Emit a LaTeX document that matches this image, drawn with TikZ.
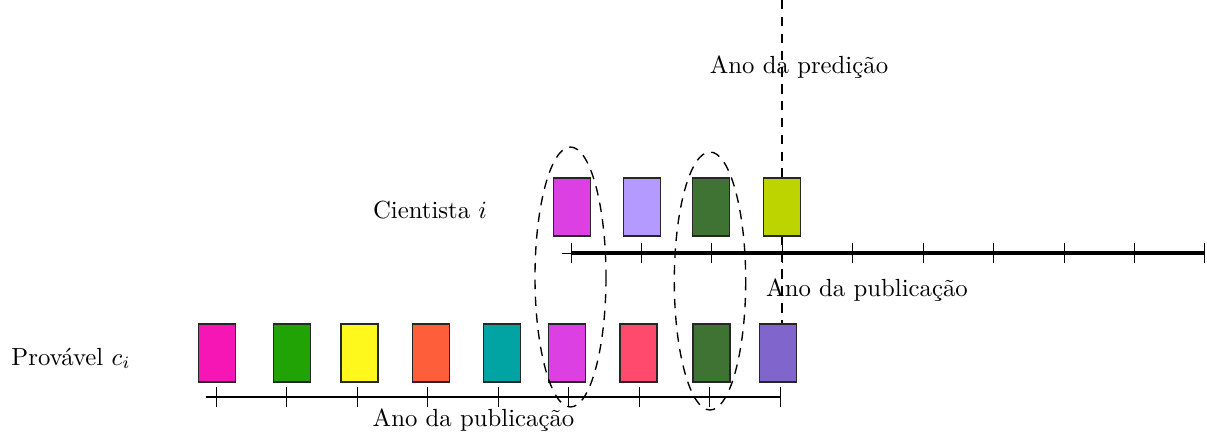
\documentclass[tikz,border=0pt]{standalone}
\usetikzlibrary{shapes.geometric}
\definecolor{cpink}{RGB}{246,22,182}
\definecolor{cgreen}{RGB}{34,163,5}
\definecolor{cyellow}{RGB}{255,248,28}
\definecolor{corange}{RGB}{255,94,58}
\definecolor{cteal}{RGB}{1,163,163}
\definecolor{cmagenta}{RGB}{220,64,226}
\definecolor{cpinkred}{RGB}{255,74,110}
\definecolor{cdkgreen}{RGB}{63,115,51}
\definecolor{cpurple}{RGB}{128,102,204}
\definecolor{clavender}{RGB}{180,154,255}
\definecolor{cyelgreen}{RGB}{189,212,0}
\begin{document}
\begin{tikzpicture}[x=0.014184cm,y=-0.014184cm,
  pub/.style={draw=black!85,line width=0.55pt,minimum width=0.525cm,minimum height=0.82cm,inner sep=0pt},
  tickmark/.style={line width=0.4pt},
  lbl/.style={anchor=base,inner sep=0pt},
  longdash/.style={dash pattern=on 3.8pt off 3pt,line width=0.55pt}]
\useasboundingbox (0,0) rectangle (1207,438);
% prediction line
\coordinate (pt) at (782,0);
\coordinate (pb) at (782,330);
\draw[longdash] (pt) -- (pb);
% top axis
\coordinate (ta0) at (562,253);
\coordinate (ta1) at (571,253);
\coordinate (ta2) at (1205,253);
\draw[line width=0.4pt] (ta0) -- (ta1);
\draw[line width=1.3pt] (ta1) -- (ta2);
\foreach \i in {0,...,9} {
  \draw[tickmark] ({571+70.44*\i},243) -- ({571+70.44*\i},263);
}
% bottom axis
\coordinate (ba0) at (206,397);
\coordinate (ba1) at (780,397);
\draw[line width=0.6pt] (ba0) -- (ba1);
\foreach \i in {0,...,8} {
  \draw[tickmark] ({216.5+70.44*\i},387) -- ({216.5+70.44*\i},407);
}
% top boxes
\node[pub,fill=cmagenta] (t1) at (572,207) {};
\node[pub,fill=clavender] (t2) at (642,207) {};
\node[pub,fill=cdkgreen] (t3) at (711,207) {};
\node[pub,fill=cyelgreen] (t4) at (782,207) {};
% bottom boxes
\node[pub,fill=cpink] (b1) at (217,353) {};
\node[pub,fill=cgreen] (b2) at (292,353) {};
\node[pub,fill=cyellow] (b3) at (359.5,353) {};
\node[pub,fill=corange] (b4) at (431,353) {};
\node[pub,fill=cteal] (b5) at (502,353) {};
\node[pub,fill=cmagenta] (b6) at (567,353) {};
\node[pub,fill=cpinkred] (b7) at (638.5,353) {};
\node[pub,fill=cdkgreen] (b8) at (711.5,353) {};
\node[pub,fill=cpurple] (b9) at (778,353) {};
% ellipses
\draw[longdash] (570.5,277) ellipse [x radius=35.5,y radius=130];
\draw[longdash] (710,281) ellipse [x radius=35.7,y radius=129];
% labels
\node[lbl] (lpred) at (799,73) {Ano da predição};
\node[lbl] (lpubt) at (867,296) {Ano da publicação};
\node[lbl] (lpubb) at (473.5,426) {Ano da publicação};
\node[lbl] (lcient) at (430,218) {Cientista $i$};
\node[lbl] (lprov) at (71,365) {Provável $c_i$};
\end{tikzpicture}
\end{document}
